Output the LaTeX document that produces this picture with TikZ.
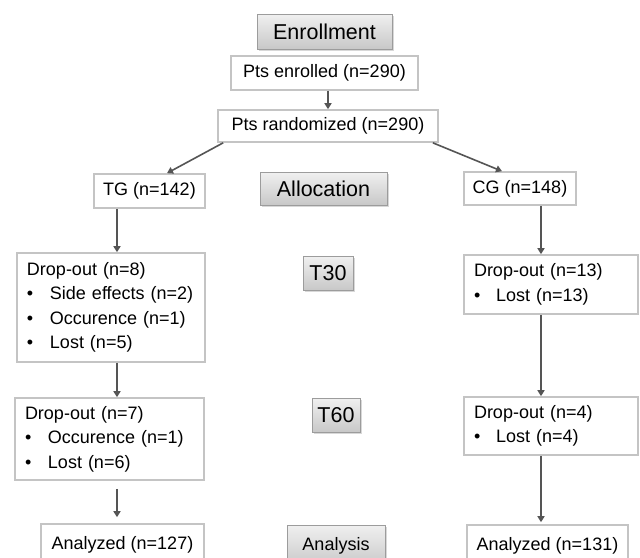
\documentclass[tikz,border=0pt]{standalone}
\usepackage{fontspec}
\setmainfont{Liberation Sans}
\usetikzlibrary{arrows.meta,shadows}
\definecolor{boxgray}{HTML}{C4C4C4}
\definecolor{lblgray}{HTML}{9C9C9C}
\definecolor{arrgray}{HTML}{555555}
\definecolor{lbltop}{HTML}{F0F0F0}
\definecolor{lblbot}{HTML}{C8C8C8}
\begin{document}
\begin{tikzpicture}[x=1pt,y=-1pt,
  wbox/.style={draw=boxgray, line width=1.6pt, fill=white, inner sep=0pt,
    font=\fontsize{18}{24.5}\selectfont},
  listbox/.style={wbox, align=left, inner xsep=10pt, text width=#1},
  lbl/.style={draw=lblgray, line width=1pt, top color=lbltop, bottom color=lblbot,
    inner sep=0pt, drop shadow={shadow xshift=1.5pt, shadow yshift=-1.5pt, opacity=0.3},
    font=\fontsize{21.5}{24}\selectfont},
  arr/.style={draw=arrgray, line width=1.6pt, -{Triangle[length=6pt,width=7pt]}}
]
\useasboundingbox (0,0) rectangle (640,557);
\fill[white] (0,0) rectangle (640,557);

% labels
\node[lbl, minimum width=135pt, minimum height=35pt] (enr) at (324.5,31.5) {Enrollment};
\node[lbl, minimum width=127pt, minimum height=33pt] (alloc) at (323.5,188.5) {Allocation};
\node[lbl, minimum width=50pt, minimum height=34pt] (t30) at (328,273) {T30};
\node[lbl, minimum width=48pt, minimum height=34pt] (t60) at (336,415) {T60};
\node[lbl, minimum width=98pt, minimum height=42pt, font=\fontsize{18}{22}\selectfont] (ana) at (336,546) {Analysis};

% white boxes
\node[wbox, minimum width=187pt, minimum height=34pt] (enrolled) at (324.5,73) {Pts enrolled (n=290)};
\node[wbox, minimum width=220pt, minimum height=32pt] (rand) at (328,126) {Pts randomized (n=290)};
\node[wbox, minimum width=111pt, minimum height=34pt] (tg) at (149.5,191) {TG (n=142)};
\node[wbox, minimum width=112pt, minimum height=33pt] (cg) at (520,188.5) {CG (n=148)};

\node[listbox=168pt, minimum width=188pt, minimum height=109pt] (tgd1) at (111,307.5)
  {Drop-out (n=8)\\
   \makebox[23pt][l]{\textbullet}Side effects (n=2)\\
   \makebox[23pt][l]{\textbullet}Occurence (n=1)\\
   \makebox[23pt][l]{\textbullet}Lost (n=5)};
\node[listbox=154pt, minimum width=174pt, minimum height=59pt] (cgd1) at (551,284.5)
  {Drop-out (n=13)\\
   \makebox[22pt][l]{\textbullet}Lost (n=13)};
\node[listbox=169pt, minimum width=189pt, minimum height=82pt] (tgd2) at (109.5,439)
  {Drop-out (n=7)\\
   \makebox[23pt][l]{\textbullet}Occurence (n=1)\\
   \makebox[23pt][l]{\textbullet}Lost (n=6)};
\node[listbox=154pt, minimum width=174pt, minimum height=58pt] (cgd2) at (551,426)
  {Drop-out (n=4)\\
   \makebox[22pt][l]{\textbullet}Lost (n=4)};

\node[wbox, minimum width=163pt, minimum height=42pt] (tga) at (122.5,545) {Analyzed (n=127)};
\node[wbox, minimum width=161pt, minimum height=42pt] (cga) at (547.5,546) {Analyzed (n=131)};

% column coordinates
\coordinate (lc) at (117,0);
\coordinate (rc) at (541,0);

% connectors
\draw[arr] (rand.north |- enrolled.south) -- (rand.north);
\draw[arr] ([xshift=6pt]rand.south west) -- ([xshift=17.5pt]tg.north);
\draw[arr] ([xshift=-6pt]rand.south east) -- ([xshift=-18pt]cg.north);
\draw[arr] (lc |- tg.south) -- (lc |- tgd1.north);
\draw[arr] (lc |- tgd1.south) -- (lc |- tgd2.north);
\draw[arr, shorten <=8pt, shorten >=6pt] (lc |- tgd2.south) -- (lc |- tga.north);
\draw[arr] (rc |- cg.south) -- (rc |- cgd1.north);
\draw[arr] (rc |- cgd1.south) -- (rc |- cgd2.north);
\draw[arr, shorten >=2pt] (rc |- cgd2.south) -- (rc |- cga.north);
\end{tikzpicture}
\end{document}
